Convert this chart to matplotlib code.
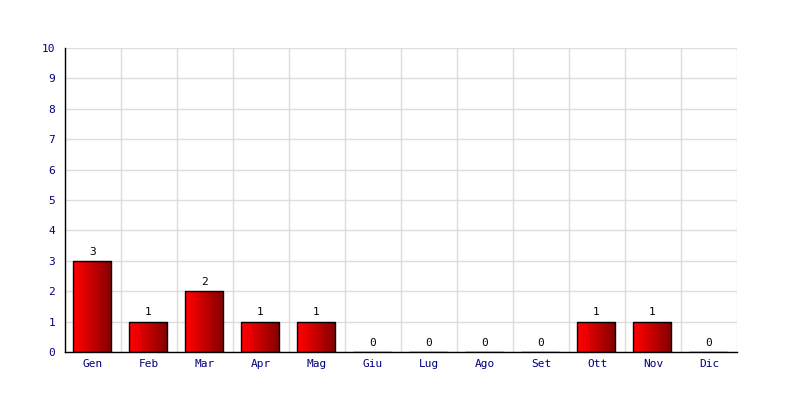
import matplotlib
matplotlib.use("Agg")
import matplotlib.pyplot as plt
import numpy as np
from matplotlib.colors import LinearSegmentedColormap

months = ["Gen", "Feb", "Mar", "Apr", "Mag", "Giu", "Lug", "Ago", "Set", "Ott", "Nov", "Dic"]
values = [3, 1, 2, 1, 1, 0, 0, 0, 0, 1, 1, 0]
yticks = list(range(0, 11))

plt.rcParams['font.family'] = ['DejaVu Sans Mono']

fig = plt.figure(figsize=(8, 4), dpi=100)
ax = fig.add_axes([65/800, 48/400, 672/800, 304/400])

x = np.arange(len(months))
ax.set_xlim(-0.5, len(months) - 0.5)
ax.set_ylim(0, 10)

# grid
ax.set_yticks(yticks)
ax.set_xticks(np.arange(-0.5, len(months), 1), minor=True)
ax.set_xticks(x)
ax.set_xticklabels(months)
ax.grid(True, which='major', axis='y', color='#dddddd', linewidth=1)
ax.grid(True, which='minor', axis='x', color='#dddddd', linewidth=1)
ax.set_axisbelow(True)
ax.tick_params(which='both', length=0)
ax.tick_params(axis='x', pad=5, labelsize=8, labelcolor='#000080')
ax.tick_params(axis='y', pad=7, labelsize=8, labelcolor='#000080')

for s in ['top', 'right']:
    ax.spines[s].set_visible(False)
for s in ['left', 'bottom']:
    ax.spines[s].set_color('black')
    ax.spines[s].set_linewidth(1)
    ax.spines[s].set_zorder(5)

cmap = LinearSegmentedColormap.from_list('rg', [(0, '#ff0000'), (0.12, '#f80000'), (1, '#800000')])
grad = np.linspace(0, 1, 256).reshape(1, -1)

bars = ax.bar(x - 0.015, values, width=0.68, color='none', edgecolor='black', linewidth=1, zorder=3)
for b, v in zip(bars, values):
    if v > 0:
        x0 = b.get_x()
        w = b.get_width()
        im = ax.imshow(grad, cmap=cmap, aspect='auto', extent=(x0, x0 + w, 0, v),
                       interpolation='bilinear', zorder=2)
        im.set_clip_path(b)
    ax.annotate(str(v), (b.get_x() + b.get_width() / 2, v), xytext=(0, 3),
                textcoords='offset points', ha='center', va='bottom', fontsize=8, color='black')

ax.set_xlim(-0.5, len(months) - 0.5)
ax.set_ylim(0, 10)

fig.savefig("out.png", dpi=100)
